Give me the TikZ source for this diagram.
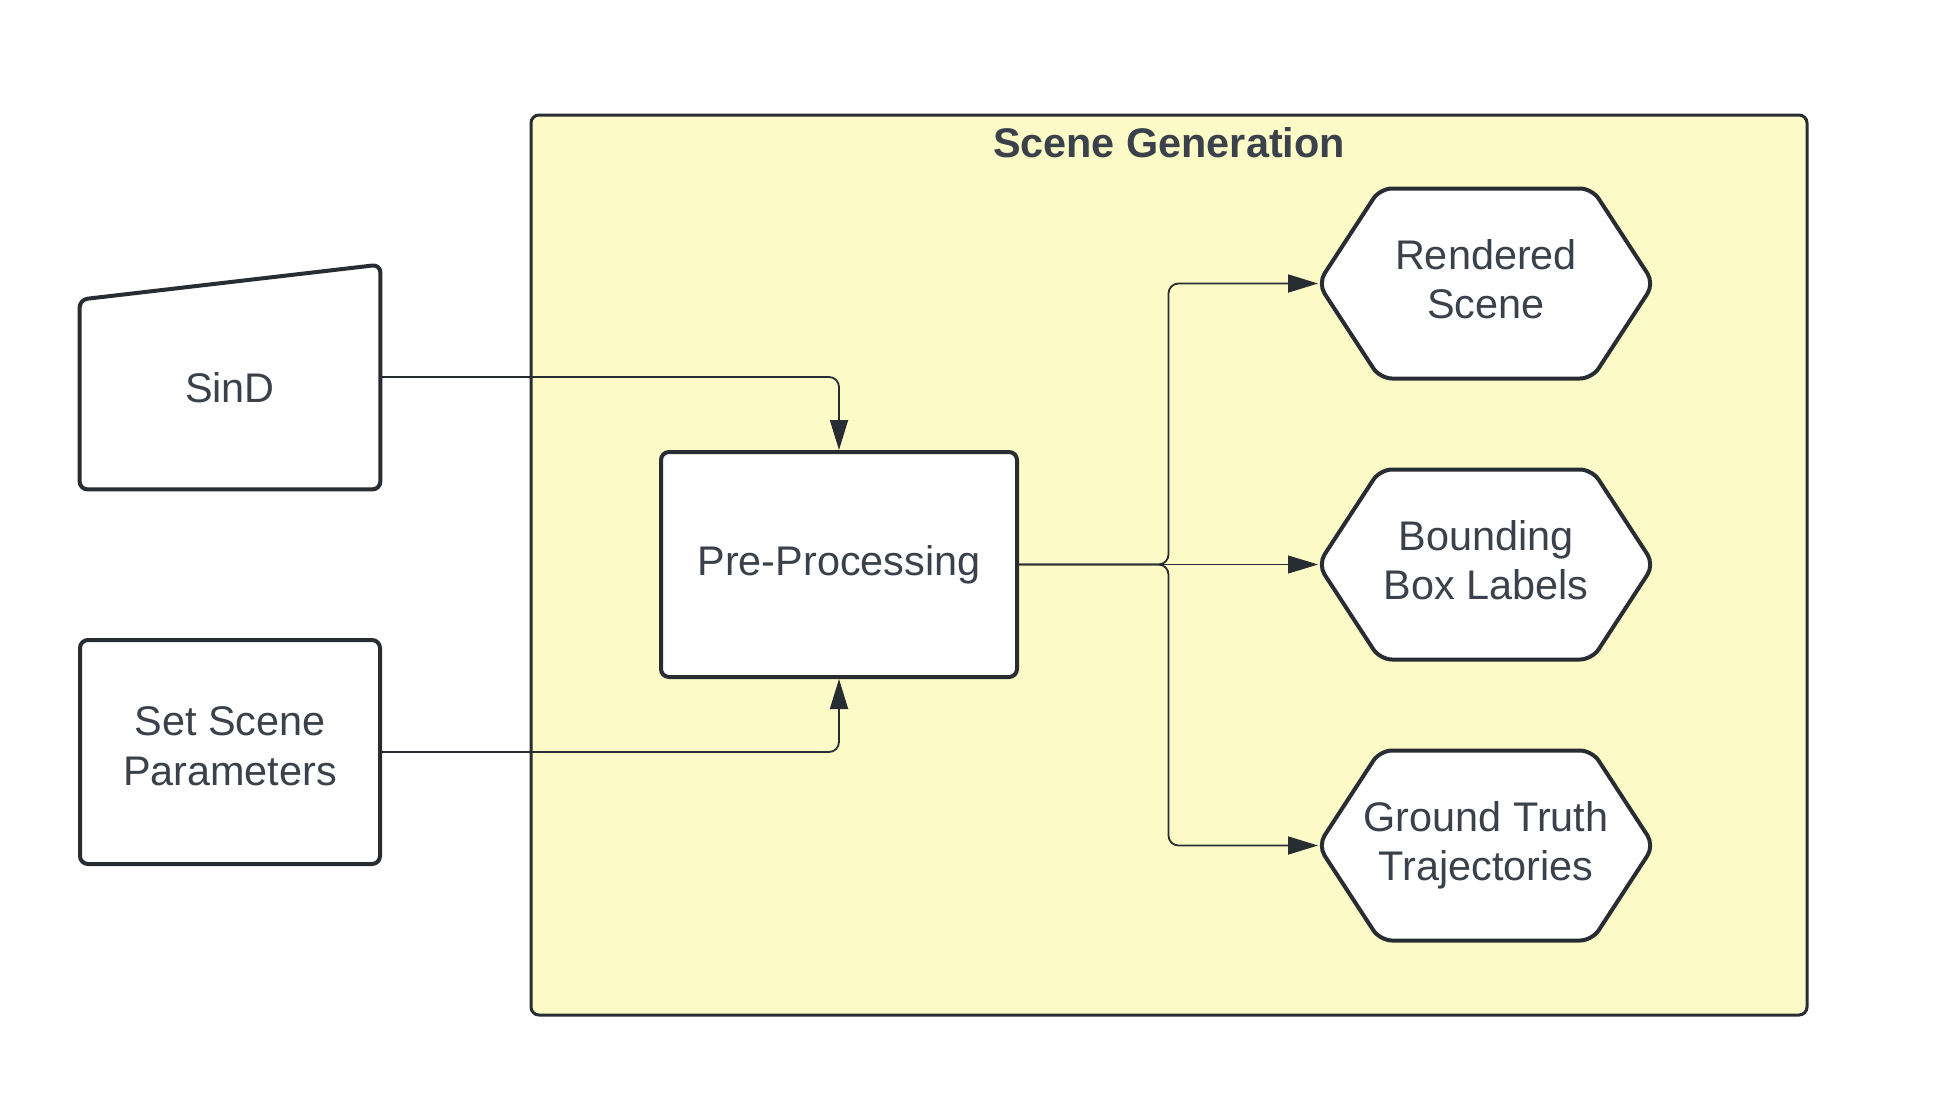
\documentclass[tikz,border=0pt]{standalone}
\usepackage{fontspec}
\setmainfont{Liberation Sans}
\usepackage{tikz}
\usetikzlibrary{arrows.meta}
\definecolor{ink}{HTML}{282C33}
\definecolor{txt}{HTML}{3A414A}
\definecolor{pad}{HTML}{FCFBC8}
\pgfdeclarelayer{back}
\pgfdeclarelayer{mid}
\pgfsetlayers{back,mid,main}
\tikzset{>={Triangle[length=15pt,width=9pt]},node distance=140.5pt,
  every node/.style={font=\fontsize{20.7}{24.7}\selectfont,text=txt,align=center},
  box/.style={draw=ink,line width=2pt,fill=white,rounded corners=4pt,minimum width=150pt,minimum height=112pt},
  hexa/.style={line width=2pt,minimum width=166pt,minimum height=93pt,text depth=4.3pt},
  outline/.style={draw=ink,line width=2pt,fill=white,rounded corners=6pt},
  wire/.style={->,draw=ink,line width=0.9pt,rounded corners=5pt}}
\begin{document}
\begin{tikzpicture}[x=0.5pt,y=-0.5pt]
    \useasboundingbox (0,0) rectangle (1933,1104);
    \begin{pgfonlayer}{back}
    \draw[draw=ink,line width=1.5pt,fill=pad,rounded corners=4pt] (531,115) rectangle (1807,1015);
    \end{pgfonlayer}
    \node[font=\fontsize{20.7}{24.7}\selectfont\bfseries] (0) at (1169,143) {Scene Generation};
    \node[minimum width=150pt,minimum height=112pt,label={[yshift=-5.5pt]center:SinD}] (1) at (230,377) {};
    \draw[draw=ink,line width=2pt,rounded corners=4pt]
    (1.south west) -- (1.south east) -- (1.north east) -- ([yshift=-17.5pt]1.north west) -- cycle;
    \node[box,text depth=6pt] (2) [below of=1,node distance=187.5pt] {Set Scene\\Parameters};
    \node[box,minimum width=178pt,minimum height=112.5pt] (3) at (839,564.5) {Pre-Processing};
    \node[hexa] (4) at (1486,283.5) {Rendered\\Scene};
    \node[hexa] (5) [below of=4] {Bounding\\Box Labels};
    \node[hexa] (6) [below of=5] {Ground Truth\\Trajectories};
    \begin{pgfonlayer}{mid}
    \foreach \n in {4,5,6}
      \draw[outline] (\n.west) -- ([xshift=31pt]\n.north west) -- ([xshift=-31pt]\n.north east)
      -- (\n.east) -- ([xshift=-31pt]\n.south east) -- ([xshift=31pt]\n.south west) -- cycle;
    \end{pgfonlayer}
    \path (3.east) -- (5.west) coordinate[midway] (j);
    \draw[wire] (1.east) -| (3.north);
    \draw[wire] (2.east) -| (3.south);
    \draw[wire] (3.east) -- (j) |- (4.west);
    \draw[wire,line width=0.4pt] (3.east) -- (5.west);
    \draw[wire] (3.east) -- (j) |- (6.west);
\end{tikzpicture}
\end{document}
